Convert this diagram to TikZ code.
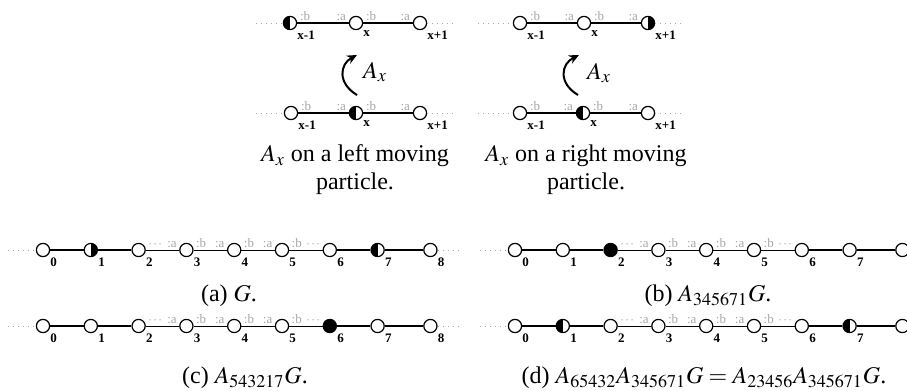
\documentclass[tikz,border=0pt]{standalone}
\usepackage{mathptmx}
\usepackage{fontspec}
\setmainfont{Liberation Serif}
\usetikzlibrary{arrows.meta}

\tikzset{
  site/.style={circle, draw, fill=white, minimum size=6.6pt, inner sep=0pt, line width=0.6pt},
  plain/.style={site},
  lhalf/.style={site, path picture={\fill[black] (path picture bounding box.south west) rectangle (path picture bounding box.north);}},
  rhalf/.style={site, path picture={\fill[black] (path picture bounding box.south) rectangle (path picture bounding box.north east);}},
  full/.style={site, fill=black},
  numlab/.style={font=\fontsize{6.5}{6.5}\selectfont\bfseries, inner sep=1pt},
  port/.style={font=\fontsize{6.5}{6.5}\selectfont, text=black!35, inner sep=1pt},
  portr/.style={port, above right},
  portl/.style={port, above left},
  bond/.style={line width=0.8pt},
  thinbond/.style={line width=0.5pt},
  ends/.style={dotted, black!35, line width=0.5pt},
  move/.style={-{Stealth[length=5pt,width=4.5pt]}, line width=1pt},
  captext/.style={font=\fontsize{12}{14}\selectfont, inner sep=0pt}
}

\begin{document}
\begin{tikzpicture}[x=0.5pt, y=-0.5pt]
    \useasboundingbox (0,0) rectangle (907,391);

    % A_x on a left moving particle
    \coordinate (lt-l) at (256,23);
    \node[lhalf, label={[numlab]below right:x-1}] (lt0) at (290,23) {};
    \node[plain, label={[numlab]below right:x}] (lt1) at (356,23) {};
    \node[plain, label={[numlab]below right:x+1}] (lt2) at (420,23) {};
    \coordinate (lt-r) at (455,23);
    \draw[ends] (lt-l) -- (lt0);
    \draw[bond] (lt0) -- node[at start, portr] {:b} node[at end, portl] {:a} (lt1);
    \draw[bond] (lt1) -- node[at start, portr] {:b} node[at end, portl] {:a} (lt2);
    \draw[ends] (lt2) -- (lt-r);

    \coordinate (lb-l) at (256,113);
    \node[plain, label={[numlab]below right:x-1}] (lb0) at (291,113) {};
    \node[lhalf, label={[numlab]below right:x}] (lb1) at (356,113) {};
    \node[plain, label={[numlab]below right:x+1}] (lb2) at (420,113) {};
    \coordinate (lb-r) at (455,113);
    \draw[ends] (lb-l) -- (lb0);
    \draw[bond] (lb0) -- node[at start, portr] {:b} node[at end, portl] {:a} (lb1);
    \draw[bond] (lb1) -- node[at start, portr] {:b} node[at end, portl] {:a} (lb2);
    \draw[ends] (lb2) -- (lb-r);

    \coordinate (la0) at (357,95);
    \coordinate (la1) at (357,55);
    \draw[move] (la0) .. controls (337,83) and (340,64) .. (la1);
    \node[captext] (lax) at (375,72) {$A_x$};
    \node[captext, align=center] (capl) at (355,170) {$A_x$ on a left moving\\particle.};

    % A_x on a right moving particle
    \coordinate (rt-l) at (478,23);
    \node[plain, label={[numlab]below right:x-1}] (rt0) at (520,23) {};
    \node[plain, label={[numlab]below right:x}] (rt1) at (584,23) {};
    \node[rhalf, label={[numlab]below right:x+1}] (rt2) at (648,23) {};
    \coordinate (rt-r) at (685,23);
    \draw[ends] (rt-l) -- (rt0);
    \draw[bond] (rt0) -- node[at start, portr] {:b} node[at end, portl] {:a} (rt1);
    \draw[bond] (rt1) -- node[at start, portr] {:b} node[at end, portl] {:a} (rt2);
    \draw[ends] (rt2) -- (rt-r);

    \coordinate (rb-l) at (478,113);
    \node[plain, label={[numlab]below right:x-1}] (rb0) at (520,113) {};
    \node[lhalf, label={[numlab]below right:x}] (rb1) at (583,113) {};
    \node[plain, label={[numlab]below right:x+1}] (rb2) at (648,113) {};
    \coordinate (rb-r) at (685,113);
    \draw[ends] (rb-l) -- (rb0);
    \draw[bond] (rb0) -- node[at start, portr] {:b} node[at end, portl] {:a} (rb1);
    \draw[bond] (rb1) -- node[at start, portr] {:b} node[at end, portl] {:a} (rb2);
    \draw[ends] (rb2) -- (rb-r);

    \coordinate (ra0) at (578,95);
    \coordinate (ra1) at (579,55);
    \draw[move] (ra0) .. controls (558,83) and (561,64) .. (ra1);
    \node[captext] (rax) at (599,73) {$A_x$};
    \node[captext, align=center] (capr) at (586,170) {$A_x$ on a right moving\\particle.};

    % the four chains
    \foreach \cn/\ox/\oy/\row in {
        a/43/250/{plain,rhalf,plain,plain,plain,plain,plain,lhalf,plain},
        b/515/250/{plain,plain,full,plain,plain,plain,plain,plain,plain},
        c/43/326/{plain,plain,plain,plain,plain,plain,full,plain,plain},
        d/515/326/{plain,lhalf,plain,plain,plain,plain,plain,lhalf,plain}} {
      \foreach \s [count=\i from 0] in \row {
        \pgfmathsetmacro\xx{\ox+47.8*\i+5*(\i==8)}
        \node[\s, label={[numlab]below right:\i}] (\cn\i) at (\xx,\oy) {};
      }
      \coordinate (\cn-l) at (\ox-35,\oy);
      \coordinate (\cn-r) at (\ox+47.8*7+82,\oy);
      \draw[ends] (\cn-l) -- (\cn0);
      \draw[bond] (\cn0) -- (\cn1) -- (\cn2);
      \draw[thinbond] (\cn2) -- node[at start, portr] {$\cdots$} node[at end, portl] {:a} (\cn3);
      \draw[thinbond] (\cn3) -- node[at start, portr] {:b} node[at end, portl] {:a} (\cn4);
      \draw[thinbond] (\cn4) -- node[at start, portr] {:b} node[at end, portl] {:a} (\cn5);
      \draw[thinbond] (\cn5) -- node[at start, portr] {:b} node[at end, portl] {$\cdots$} (\cn6);
      \draw[bond] (\cn6) -- (\cn7) -- (\cn8);
      \draw[ends] (\cn8) -- (\cn-r);
    }

    \node[captext, anchor=base] (capa) at (229,301) {(a) $G$.};
    \node[captext, anchor=base] (capb) at (708,301) {(b) $A_{345671}G$.};
    \node[captext, anchor=base] (capc) at (245,383) {(c) $A_{543217}G$.};
    \node[captext, anchor=base] (capd) at (704,383) {(d) $A_{65432}A_{345671}G = A_{23456}A_{345671}G$.};

\end{tikzpicture}
\end{document}
